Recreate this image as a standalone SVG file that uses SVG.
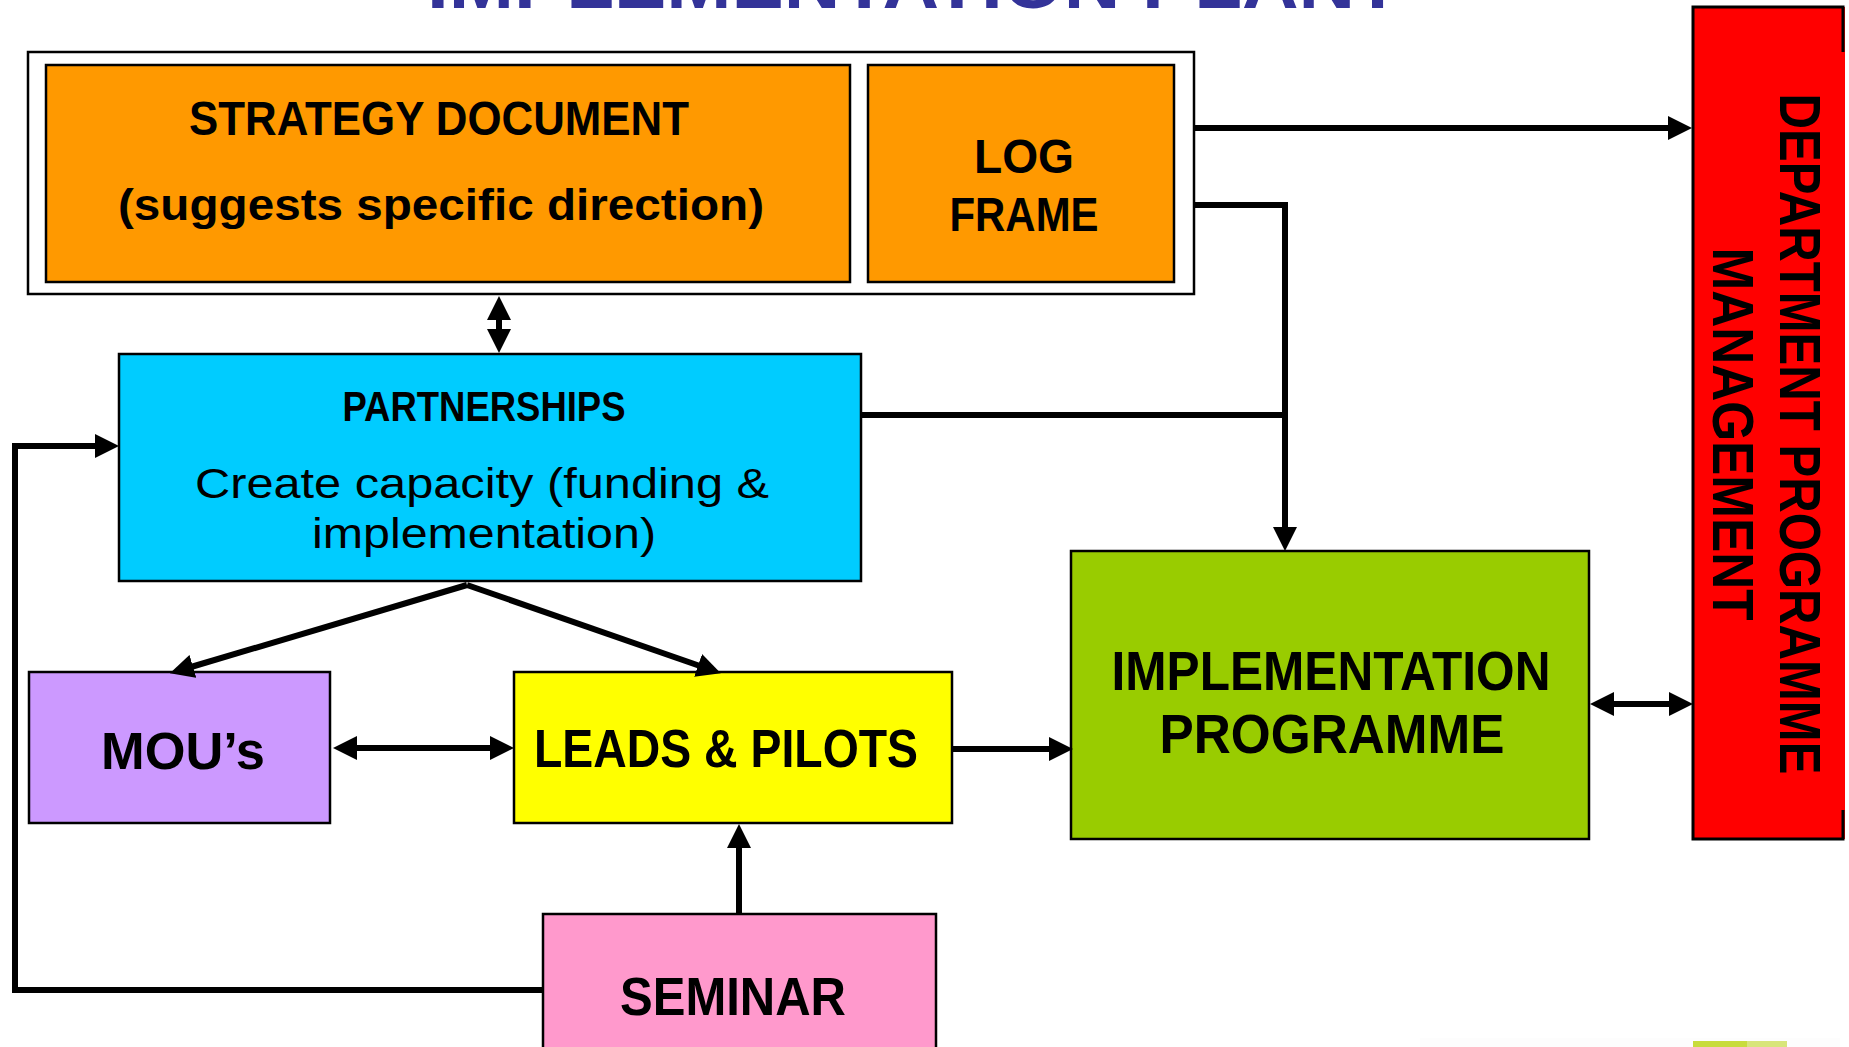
<svg xmlns="http://www.w3.org/2000/svg" width="1849" height="1047" viewBox="0 0 1849 1047">
<style>
.box{stroke:#000;stroke-width:2.5}
.b{font-family:"Liberation Sans",Arial,sans-serif;font-weight:bold;fill:#000;text-anchor:middle}
.r{font-family:"Liberation Sans",Arial,sans-serif;font-weight:normal;fill:#000;text-anchor:middle}
.ln{fill:none;stroke:#000;stroke-width:6}
</style>
<defs>
<marker id="ah" viewBox="0 0 24 24" refX="2" refY="12" markerWidth="24" markerHeight="24" markerUnits="userSpaceOnUse" orient="auto-start-reverse">
<path d="M0,0 L24,12 L0,24 Z" fill="#000"/>
</marker>
</defs>
<rect width="1849" height="1047" fill="#fff"/>
<g id="title">
<text x="915" y="7.5" font-family="Liberation Sans, Arial, sans-serif" font-weight="bold" font-size="72" fill="#333399" text-anchor="middle" textLength="976" lengthAdjust="spacingAndGlyphs">IMPLEMENTATION PLAN?</text>
</g>
<g id="frame">
<rect x="28" y="52" width="1166" height="242" fill="#fff" class="box"/>
</g>
<g id="strategy">
<rect x="46" y="65" width="804" height="217" fill="#FF9900" class="box"/>
<text class="b" x="439" y="135" font-size="48" textLength="500" lengthAdjust="spacingAndGlyphs">STRATEGY DOCUMENT</text>
<text class="b" x="441" y="220" font-size="45" textLength="646" lengthAdjust="spacingAndGlyphs">(suggests specific direction)</text>
</g>
<g id="logframe">
<rect x="868" y="65" width="306" height="217" fill="#FF9900" class="box"/>
<text class="b" x="1024" y="173" font-size="48" textLength="100" lengthAdjust="spacingAndGlyphs">LOG</text>
<text class="b" x="1024" y="231" font-size="48" textLength="149" lengthAdjust="spacingAndGlyphs">FRAME</text>
</g>
<g id="partnerships">
<rect x="119" y="354" width="742" height="227" fill="#00CCFF" class="box"/>
<text class="b" x="484" y="421" font-size="42" textLength="283" lengthAdjust="spacingAndGlyphs">PARTNERSHIPS</text>
<text class="r" x="482" y="498" font-size="42" textLength="574" lengthAdjust="spacingAndGlyphs">Create capacity (funding &amp;</text>
<text class="r" x="484" y="548" font-size="42" textLength="344" lengthAdjust="spacingAndGlyphs">implementation)</text>
</g>
<g id="mous">
<rect x="29" y="672" width="301" height="151" fill="#CC99FF" class="box"/>
<text class="b" x="183" y="769" font-size="51" textLength="164" lengthAdjust="spacingAndGlyphs">MOU’s</text>
</g>
<g id="leads">
<rect x="514" y="672" width="438" height="151" fill="#FFFF00" class="box"/>
<text class="b" x="726" y="767" font-size="53" textLength="384" lengthAdjust="spacingAndGlyphs">LEADS &amp; PILOTS</text>
</g>
<g id="seminar">
<rect x="543" y="914" width="393" height="150" fill="#FF99CC" class="box"/>
<text class="b" x="733" y="1015" font-size="53" textLength="226" lengthAdjust="spacingAndGlyphs">SEMINAR</text>
</g>
<g id="implementation">
<rect x="1071" y="551" width="518" height="288" fill="#99CC00" class="box"/>
<text class="b" x="1331" y="690" font-size="55" textLength="439" lengthAdjust="spacingAndGlyphs">IMPLEMENTATION</text>
<text class="b" x="1332" y="753" font-size="55" textLength="345" lengthAdjust="spacingAndGlyphs">PROGRAMME</text>
</g>
<g id="department">
<rect x="1693" y="7" width="152" height="832" fill="#FF0000"/>
<path d="M1843,52 V7 H1693 V839 H1843 V810" fill="none" stroke="#000" stroke-width="3"/>
<g transform="translate(1780,434) rotate(90)">
<text class="b" x="0" y="0" font-size="58" textLength="681" lengthAdjust="spacingAndGlyphs">DEPARTMENT PROGRAMME</text>
<text class="b" x="0" y="67" font-size="58" textLength="373" lengthAdjust="spacingAndGlyphs">MANAGEMENT</text>
</g>
</g>
<g id="connectors">
<path class="ln" d="M1194,128 H1670" marker-end="url(#ah)"/>
<path class="ln" d="M1194,205 H1285 V529" marker-end="url(#ah)"/>
<path class="ln" d="M861,415 H1285"/>
<path class="ln" d="M499,318 V331" marker-start="url(#ah)" marker-end="url(#ah)"/>
<path class="ln" d="M467,585 L191,667" marker-end="url(#ah)"/>
<path class="ln" d="M467,585 L700,666" marker-end="url(#ah)"/>
<path class="ln" d="M355,748 H492" marker-start="url(#ah)" marker-end="url(#ah)"/>
<path class="ln" d="M952,749 H1051" marker-end="url(#ah)"/>
<path class="ln" d="M739,914 V846" marker-end="url(#ah)"/>
<path class="ln" d="M543,990 H15 V446 H97" marker-end="url(#ah)"/>
<path class="ln" d="M1612,704 H1671" marker-start="url(#ah)" marker-end="url(#ah)"/>
</g>
<rect x="1420" y="1038" width="420" height="9" fill="#FDFDFD"/>
<rect x="1693" y="1041" width="54" height="6" fill="#C8DC3C"/>
<rect x="1747" y="1041" width="40" height="6" fill="#D8E57A"/>
</svg>
